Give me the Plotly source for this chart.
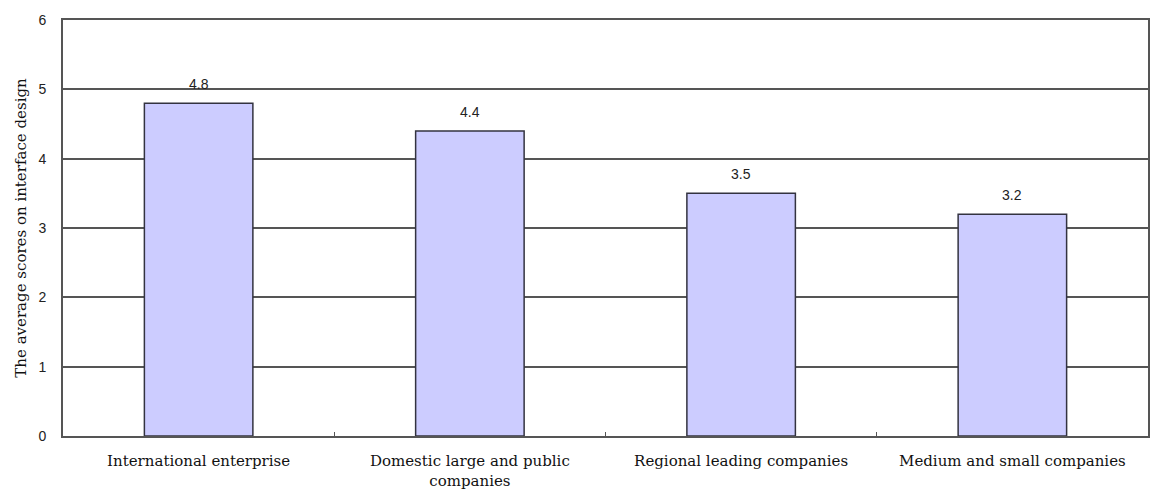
import plotly.graph_objects as go

categories = ["International enterprise", "Domestic large and public<br>companies",
              "Regional leading companies", "Medium and small companies"]
scores = [4.8, 4.4, 3.5, 3.2]
y_ticks = [0, 1, 2, 3, 4, 5, 6]

SERIF = "DejaVu Serif, Liberation Serif, serif"
SANS = "Liberation Sans, Arial, sans-serif"

fig = go.Figure()
fig.add_trace(go.Bar(
    x=categories, y=scores,
    marker=dict(color="#CCCCFF", line=dict(color="#333340", width=1.5)),
    width=0.4,
))
for c, v in zip(categories, scores):
    fig.add_annotation(x=c, y=v, text=f"{v}", showarrow=False, yanchor="bottom",
                       yshift=9, font=dict(family=SANS, size=14, color="#222"))

fig.update_layout(
    width=1152, height=501,
    margin=dict(l=63, r=2, t=20, b=65),
    plot_bgcolor="white", paper_bgcolor="white",
    showlegend=False,
    xaxis=dict(
        showgrid=False, showline=True, linecolor="#555555", linewidth=2, mirror=True,
        ticks="inside", tickson="boundaries", ticklen=4, tickcolor="#555555",
        ticklabelstandoff=10,
        tickfont=dict(family=SERIF, size=15, color="#111"),
    ),
    yaxis=dict(
        range=[0, 6], tickvals=y_ticks, showgrid=True, gridcolor="#555555", gridwidth=2,
        showline=True, linecolor="#555555", linewidth=2, mirror=True, zeroline=False,
        ticks="", ticklabelstandoff=12,
        tickfont=dict(family=SANS, size=14, color="#222"),
        title=dict(text="The average scores on interface design",
                   font=dict(family=SERIF, size=15, color="#111"),
                   standoff=8),
    ),
)
fig.write_html("out.html")
